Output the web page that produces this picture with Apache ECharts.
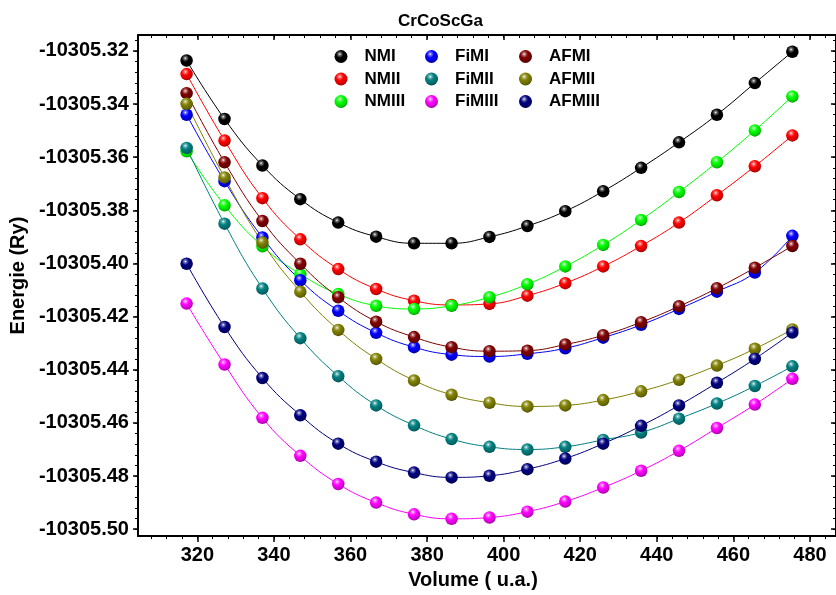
<!DOCTYPE html>
<html>
<head>
<meta charset="utf-8">
<script src="https://cdn.jsdelivr.net/npm/echarts@6/dist/echarts.min.js"></script>
<style>html,body{margin:0;padding:0;background:#fff}#chart{width:836px;height:595px}</style>
</head>
<body>
<div id="chart"></div>
<script>
// ---- data ----
const volume = [317.2, 327.1, 337.0, 346.9, 356.8, 366.7, 376.6, 386.4, 396.3, 406.2, 416.1, 426.0, 435.9, 445.8, 455.7, 465.6, 475.4];

const NMI    = [-10305.3236, -10305.3456, -10305.3631, -10305.3758, -10305.3846, -10305.3899, -10305.3924, -10305.3924, -10305.3900, -10305.3859, -10305.3803, -10305.3728, -10305.3640, -10305.3544, -10305.3440, -10305.3321, -10305.3203];
const NMII   = [-10305.3287, -10305.3537, -10305.3754, -10305.3909, -10305.4021, -10305.4096, -10305.4140, -10305.4156, -10305.4152, -10305.4121, -10305.4074, -10305.4011, -10305.3934, -10305.3846, -10305.3743, -10305.3634, -10305.3518];
const NMIII  = [-10305.3578, -10305.3781, -10305.3935, -10305.4040, -10305.4115, -10305.4159, -10305.4171, -10305.4159, -10305.4127, -10305.4078, -10305.4011, -10305.3930, -10305.3836, -10305.3731, -10305.3619, -10305.3499, -10305.3371];
const FiMI   = [-10305.3440, -10305.3690, -10305.3902, -10305.4063, -10305.4178, -10305.4261, -10305.4315, -10305.4343, -10305.4350, -10305.4340, -10305.4319, -10305.4279, -10305.4231, -10305.4171, -10305.4106, -10305.4034, -10305.3896];
const FiMII  = [-10305.3565, -10305.3850, -10305.4094, -10305.4281, -10305.4424, -10305.4534, -10305.4609, -10305.4661, -10305.4690, -10305.4700, -10305.4690, -10305.4664, -10305.4636, -10305.4584, -10305.4527, -10305.4461, -10305.4387];
const FiMIII = [-10305.4151, -10305.4380, -10305.4581, -10305.4724, -10305.4830, -10305.4900, -10305.4944, -10305.4961, -10305.4956, -10305.4934, -10305.4896, -10305.4843, -10305.4780, -10305.4705, -10305.4619, -10305.4531, -10305.4434];
const AFMI   = [-10305.3359, -10305.3619, -10305.3840, -10305.4001, -10305.4127, -10305.4219, -10305.4277, -10305.4315, -10305.4330, -10305.4328, -10305.4305, -10305.4270, -10305.4221, -10305.4161, -10305.4093, -10305.4016, -10305.3934];
const AFMII  = [-10305.3399, -10305.3676, -10305.3921, -10305.4106, -10305.4250, -10305.4359, -10305.4440, -10305.4494, -10305.4524, -10305.4538, -10305.4534, -10305.4514, -10305.4481, -10305.4438, -10305.4384, -10305.4321, -10305.4248];
const AFMIII = [-10305.4001, -10305.4239, -10305.4431, -10305.4571, -10305.4678, -10305.4746, -10305.4787, -10305.4805, -10305.4799, -10305.4774, -10305.4734, -10305.4678, -10305.4611, -10305.4534, -10305.4449, -10305.4359, -10305.4260];

const seriesNames = ['NMI', 'NMII', 'NMIII', 'FiMI', 'FiMII', 'FiMIII', 'AFMI', 'AFMII', 'AFMIII'];
const seriesValues = [NMI, NMII, NMIII, FiMI, FiMII, FiMIII, AFMI, AFMII, AFMIII];
const seriesColors = ['#000000', '#ff0000', '#00ff00', '#0000ff', '#008080', '#ff00ff', '#800000', '#808000', '#000080'];

const xTickLabels = [320, 340, 360, 380, 400, 420, 440, 460, 480];
const yTickLabels = [-10305.50, -10305.48, -10305.46, -10305.44, -10305.42, -10305.40, -10305.38, -10305.36, -10305.34, -10305.32];

// ---- axis extents / styling ----
const X_MIN = 304.5, X_MAX = 486.8;
const Y_MIN = -10305.5026, Y_MAX = -10305.314;
const FONT = '"Liberation Sans", Arial, Helvetica, sans-serif';

const xMinor = [];
for (let k = 0; k < 60; k++) { const v = 304 + 4 * k; if (v > X_MIN && v < X_MAX) xMinor.push(v); }
const yMinor = [];
for (let k = 0; k < 60; k++) { const v = Math.round((-10305.50 + 0.004 * k) * 10000) / 10000; if (v > Y_MIN && v < Y_MAX) yMinor.push(v); }

function shade(hex, f) {
  const n = parseInt(hex.slice(1), 16);
  const r = Math.round(((n >> 16) & 255) * f), g = Math.round(((n >> 8) & 255) * f), b = Math.round((n & 255) * f);
  return 'rgb(' + r + ',' + g + ',' + b + ')';
}
function lighten(hex, t) {
  const n = parseInt(hex.slice(1), 16);
  const c = [(n >> 16) & 255, (n >> 8) & 255, n & 255].map(v => Math.round(v + (255 - v) * t));
  return 'rgb(' + c.join(',') + ')';
}
function ball(c) {
  return {
    type: 'radial', x: 0.4, y: 0.32, r: 0.72,
    colorStops: [
      { offset: 0, color: '#ffffff' },
      { offset: 0.14, color: lighten(c, 0.45) },
      { offset: 0.4, color: c },
      { offset: 0.8, color: shade(c, 0.8) },
      { offset: 1, color: shade(c, 0.55) }
    ]
  };
}

const axisLineStyle = { show: true, onZero: false, lineStyle: { color: '#000', width: 2 } };
const labelStyle = { color: '#000', fontFamily: FONT, fontWeight: 'bold', fontSize: 20 };

const xAxes = [
  { type: 'value', position: 'bottom', min: X_MIN, max: X_MAX, axisLine: axisLineStyle,
    axisTick: { show: true, customValues: xTickLabels, length: 6, inside: false, lineStyle: { color: '#000', width: 1.5 } },
    axisLabel: { show: true, customValues: xTickLabels, margin: 9, ...labelStyle, formatter: v => String(v) },
    splitLine: { show: false },
    name: 'Volume ( u.a.)', nameLocation: 'middle', nameGap: 33,
    nameTextStyle: { color: '#000', fontFamily: FONT, fontWeight: 'bold', fontSize: 20, padding: [0, 28, 0, 0] } },
  { type: 'value', position: 'bottom', min: X_MIN, max: X_MAX, axisLine: { show: false },
    axisTick: { show: true, customValues: xMinor, length: 3, inside: false, lineStyle: { color: '#000', width: 1 } },
    axisLabel: { show: false }, splitLine: { show: false } },
  { type: 'value', position: 'top', min: X_MIN, max: X_MAX, axisLine: axisLineStyle,
    axisTick: { show: true, customValues: xTickLabels, length: 5, inside: true, lineStyle: { color: '#000', width: 1.5 } },
    axisLabel: { show: false }, splitLine: { show: false } },
  { type: 'value', position: 'top', min: X_MIN, max: X_MAX, axisLine: { show: false },
    axisTick: { show: true, customValues: xMinor, length: 3, inside: true, lineStyle: { color: '#000', width: 1 } },
    axisLabel: { show: false }, splitLine: { show: false } }
];

const yAxes = [
  { type: 'value', position: 'left', min: Y_MIN, max: Y_MAX, axisLine: axisLineStyle,
    axisTick: { show: true, customValues: yTickLabels, length: 5, inside: false, lineStyle: { color: '#000', width: 1.5 } },
    axisLabel: { show: true, customValues: yTickLabels, margin: 9, ...labelStyle, formatter: v => v.toFixed(2) },
    splitLine: { show: false },
    name: 'Energie (Ry)', nameLocation: 'middle', nameGap: 101, nameRotate: 90,
    nameTextStyle: { color: '#000', fontFamily: FONT, fontWeight: 'bold', fontSize: 20, padding: [0, 0, 0, 20] } },
  { type: 'value', position: 'left', min: Y_MIN, max: Y_MAX, axisLine: { show: false },
    axisTick: { show: true, customValues: yMinor, length: 3, inside: false, lineStyle: { color: '#000', width: 1 } },
    axisLabel: { show: false }, splitLine: { show: false } },
  { type: 'value', position: 'right', min: Y_MIN, max: Y_MAX, axisLine: axisLineStyle,
    axisTick: { show: true, customValues: yTickLabels, length: 5, inside: true, lineStyle: { color: '#000', width: 1.5 } },
    axisLabel: { show: false }, splitLine: { show: false } },
  { type: 'value', position: 'right', min: Y_MIN, max: Y_MAX, axisLine: { show: false },
    axisTick: { show: true, customValues: yMinor, length: 3, inside: true, lineStyle: { color: '#000', width: 1 } },
    axisLabel: { show: false }, splitLine: { show: false } }
];

const series = seriesNames.map((name, i) => ({
  name: name,
  type: 'line',
  xAxisIndex: 0,
  yAxisIndex: 0,
  smooth: 0.45,
  symbol: 'circle',
  symbolSize: 12.5,
  showSymbol: true,
  lineStyle: { color: seriesColors[i], width: 1 },
  itemStyle: { color: ball(seriesColors[i]), borderWidth: 0 },
  emphasis: { disabled: true },
  data: volume.map((x, j) => [x, seriesValues[i][j]])
}));

const legendBase = {
  orient: 'vertical', top: 43, icon: 'circle', itemWidth: 13, itemHeight: 13, itemGap: 5.5,
  textStyle: { color: '#000', fontFamily: FONT, fontWeight: 'bold', fontSize: 17, lineHeight: 17, padding: [0, 0, 0, 12] },
  selectedMode: false
};

const chart = echarts.init(document.getElementById('chart'), null, { renderer: 'canvas' });
chart.setOption({
  animation: false,
  backgroundColor: '#fff',
  title: {
    text: 'CrCoScGa', left: 393, top: 8,
    textStyle: { color: '#000', fontFamily: FONT, fontWeight: 'bold', fontSize: 17 }
  },
  legend: [
    { ...legendBase, left: 329.5, data: ['NMI', 'NMII', 'NMIII'] },
    { ...legendBase, left: 420, data: ['FiMI', 'FiMII', 'FiMIII'] },
    { ...legendBase, left: 514, data: ['AFMI', 'AFMII', 'AFMIII'] }
  ],
  grid: { left: 137, right: 0, top: 35, bottom: 57, containLabel: false },
  xAxis: xAxes,
  yAxis: yAxes,
  series: series
});
</script>
</body>
</html>
